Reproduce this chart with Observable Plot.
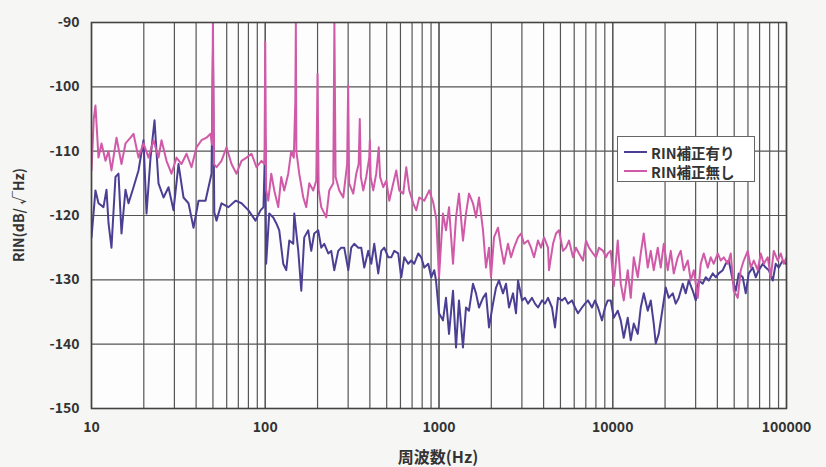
<!DOCTYPE html>
<html><head><meta charset="utf-8">
<script src="https://cdn.jsdelivr.net/npm/d3@7"></script>
<script src="https://cdn.jsdelivr.net/npm/@observablehq/plot@0.6"></script>
<style>
body{margin:0;background:#f6f6f4;}
#wrap{position:relative;width:826px;height:467px;overflow:hidden;font-family:"Noto Sans CJK JP","Noto Sans",sans-serif;color:#333;}
#legend{position:absolute;left:617px;top:136px;width:136px;height:44px;background:#fff;border:1px solid #666;}
.li{position:absolute;left:0;height:18px;display:flex;align-items:center;font-size:14.5px;font-weight:bold;color:#333;white-space:nowrap;}
.sw{display:inline-block;width:23px;height:0;border-top:2px solid;margin:0 4px 0 6px;}
#xt{position:absolute;left:338px;width:200px;top:444px;text-align:center;font-size:16px;font-weight:bold;}
#yt{position:absolute;left:-82px;top:205px;width:200px;text-align:center;font-size:14px;font-weight:bold;transform:rotate(-90deg);}
</style></head><body><div id="wrap"></div>
<script>
const xTicks = [10, 100, 1000, 10000, 100000];
const yTicks = [-150, -140, -130, -120, -110, -100, -90];
const seriesNames = ["RIN補正有り", "RIN補正無し"];
const seriesColors = ["#4b3f94", "#d05aa8"];

// RIN補正有り (with correction)
const blueFreq = [10,10.54,10.97,11.72,12.2,12.53,13.03,13.74,14.3,14.88,15.69,16.33,17.45,18.64,19.92,20.73,21.86,23.05,24.3,25.97,27.75,29.65,31.67,33.85,36.17,38.65,41.3,45.31,49.06,50,50.9,52.41,56,61.45,67.44,73.01,80.1,87.88,93.9,97.7,100,101.2,
105.4,111.2,115.7,120.4,126.9,132.1,137.5,144.9,146.9,154.9,161.2,167.7,176.8,184,191.4,201.8,210,218.6,230.5,239.8,249.5,263.1,273.8,284.9,300.5,312.6,325.3,342.9,356.9,371.4,391.5,407.5,424.1,447.1,465.3,484.1,510.5,531.2,552.8,582.7,606.4,631,665.3,692.3,720.4,759.6,790.4,822.5,867.3,902.5,939.1,
961,1000,1054,1097,1142,1204,1253,1303,1374,1430,1488,1569,1633,1699,1792,1864,1940,2046,2129,2215,2335,2430,2529,2667,2775,2850,3005,3126,3253,3429,3569,3714,3915,4075,4241,4471,4653,4841,5105,5312,5528,5827,6064,6310,6653,6923,7204,7596,7904,8225,8673,9025,9359,9739,10134,10686,
11118,11570,12200,12694,13210,13930,14494,15080,15903,16547,17219,17679,18397,19404,20184,21006,22150,23045,23982,25290,26310,27382,28870,30050,31262,32960,34295,35690,37625,39150,40747,42970,44710,46530,49060,51050,53110,56000,58270,60630,63940,66530,69230,73010,75960,79040,83360,86730,90250,95150,99010,100000];
const blueVal = [-123.4,-116.1,-118.1,-118.7,-116,-121.2,-125,-114,-113.5,-122.8,-116,-118.1,-115.6,-113,-108.3,-119.7,-111,-105.2,-115,-117.2,-115.6,-119.2,-112,-117.2,-118.1,-121.9,-117.7,-117.7,-113.5,-94.7,-119.5,-120.8,-118.1,-118.7,-117.7,-118.1,-119.2,-120.8,-119.2,-118.7,-108,-127.5,
-119.7,-120.3,-121.2,-122.3,-127.5,-128.5,-123.9,-124.4,-119.7,-125.5,-131.7,-123.4,-122.3,-125.5,-122.8,-122.3,-125,-124.4,-125.9,-125.5,-128.5,-125.5,-125,-125,-128.5,-125,-124.4,-125,-125,-128.1,-125.5,-127.5,-124.4,-129,-125.5,-125,-126.5,-126.5,-125.5,-125.9,-129.6,-126.5,-127.5,-127,-127.5,-125.9,-126.5,-128.1,-127.5,-129.6,-128.5,
-130.1,-135.2,-136.3,-132.8,-138.4,-131.7,-140.5,-133.2,-140.5,-134.3,-134.8,-130.6,-132.1,-134.3,-132.8,-132.1,-137.4,-133.7,-131.2,-130.1,-132.1,-130.6,-134.3,-132.1,-135.2,-130.1,-133.2,-132.8,-133.7,-132.8,-133.7,-134.3,-133.2,-133.7,-132.8,-134.3,-137.4,-132.8,-133.2,-132.8,-133.7,-133.2,-134.3,-135.2,-134.3,-133.7,-133.2,-134.3,-133.2,-134.3,-136.3,-134.3,-133.2,-133.2,-135.9,-134.8,
-136.3,-139,-135.9,-139.4,-136.8,-138.4,-134.3,-132.1,-134.8,-133.2,-136.8,-139.9,-138.4,-134.3,-131.2,-132.8,-132.1,-133.7,-132.8,-130.6,-132.1,-130.1,-131.7,-133.2,-130.1,-130.6,-129.6,-130.1,-129,-129.6,-129,-128.5,-127.5,-127,-130.1,-131.7,-129,-129.6,-132.1,-129,-128.1,-129.6,-128.5,-127.5,-128.1,-128.5,-130.1,-127.5,-128.1,-127,-127.5,-127.2];

// RIN補正無し (without correction)
const pinkFreq = [10,10.3,10.54,10.97,11.42,12.04,12.53,13.03,13.93,14.88,15.69,16.77,17.45,18.64,19.92,21.29,22.75,24.3,25.29,27.02,28.87,30.85,32.96,35.23,37.63,40.22,42.97,45.92,48.41,49.4,50,50.7,52.41,56,59.84,63.94,68.31,73.01,78.01,83.36,89.05,95.15,99,100,101.2,
104.1,108.3,112.7,118.8,123.6,128.6,135.6,141.1,146,149,150,151,156.9,165.5,172.2,179.2,188.9,196.6,200,203,210,224.4,233.5,246.3,250,254,266.7,281.2,296,300,304,321,334.1,345,350,355,366.4,381.3,396.8,400,404,418.3,435.3,450,458,477.7,497.1,517.3,545.5,567.5,590.6,622.7,647.9,674.2,710.9,739.8,769.8,822.5,878.8,926.6,964.3,1000,
1054,1097,1142,1204,1253,1303,1374,1430,1488,1569,1633,1699,1792,1864,1940,1992,2073,2186,2275,2366,2495,2597,2702,2850,2965,3085,3253,3385,3523,3714,3865,4022,4241,4297,4531,4714,4905,5173,5382,5600,5906,6145,6394,6743,7015,7300,7698,8010,8336,8789,9146,9359,9739,10134,10686,
11118,11570,12200,12694,13210,13930,14494,15080,15903,16547,17219,18155,18891,19661,20730,21572,22443,23665,24628,25627,27022,28118,29262,30852,32100,33400,35230,36645,38126,40220,41840,43540,45920,47770,49710,52410,54540,56750,59840,62270,64790,68310,71090,73980,78010,81170,84470,89050,92670,96430,100000];
const pinkVal = [-113,-105,-102.9,-111,-108.8,-111.5,-110,-113,-107.9,-112,-108.8,-107.9,-107.3,-111,-108.8,-111,-108.3,-111,-108.3,-111.5,-113.5,-111,-112,-110.4,-112.5,-109.4,-108.3,-107.9,-107.3,-109,-90,-112,-112.5,-111.5,-109.4,-112,-113.5,-111.5,-111,-110.4,-112.5,-111.5,-112,-93,-116,
-117.7,-113.5,-116.1,-118.7,-114,-116.1,-113.5,-110,-111,-102,-90,-110,-113.5,-117.2,-118.7,-115,-116.1,-114.6,-98,-116,-118.7,-120.3,-116.1,-115,-90,-114,-116.1,-117.2,-112,-99.8,-115,-116.6,-113.5,-112,-105,-114,-116.1,-114,-111,-108.3,-114,-116.1,-113.5,-109.4,-114,-115.6,-114.6,-117.7,-115,-113,-116.1,-116.6,-112.5,-116.1,-118.1,-119.2,-117.2,-117.7,-116.1,-118,-120.5,-129.6,
-119.7,-122.3,-118.7,-127.5,-120.3,-116.6,-123.9,-119.7,-116.6,-118.1,-120.3,-117.2,-122.3,-128.1,-125,-129.6,-123.4,-121.9,-125,-127.5,-124.4,-126.5,-125,-123.4,-122.8,-124.4,-123.9,-125,-126.5,-123.9,-125,-123.4,-125,-128.5,-124.4,-122.8,-122.3,-125.5,-125,-123.9,-126.5,-125,-125.9,-127,-123.9,-125,-125.9,-126.5,-125,-125.5,-126.5,-125.9,-125.5,-131,-123.9,
-130.6,-133.2,-128.5,-132.8,-126.5,-129.6,-125.9,-122.8,-128.1,-125.5,-128.5,-125,-128.1,-124.4,-128.5,-125.5,-129,-126.5,-125.5,-128.5,-127,-130.1,-128.5,-132.8,-127.5,-125.9,-128.1,-126.5,-127.5,-125.9,-127,-126.5,-127.5,-125.9,-131.7,-132.8,-128.5,-127,-125.5,-128.1,-127,-128.5,-125.9,-127.5,-126.5,-129.6,-125.5,-127,-125.9,-127.5,-126.5];

const data = [
  ...blueFreq.map((f, i) => ({f, v: blueVal[i], s: seriesNames[0]})),
  ...pinkFreq.map((f, i) => ({f, v: pinkVal[i], s: seriesNames[1]}))
];
const gridX = [];
for (const dec of [10, 100, 1000, 10000]) for (let k = 1; k <= 10; k++) gridX.push(dec * k);

const chart = Plot.plot({
  width: 826, height: 467,
  marginLeft: 91, marginRight: 40, marginTop: 22, marginBottom: 59,
  style: {background: "transparent", fontFamily: '"Noto Sans CJK JP","Noto Sans",sans-serif', fontSize: "14px", color: "#333"},
  x: {type: "log", domain: [10, 100000], label: null},
  y: {domain: [-150, -90], label: null},
  color: {domain: seriesNames, range: seriesColors},
  marks: [
    Plot.frame({fill: "#fdfdfd", stroke: null}),
    Plot.ruleY(yTicks, {stroke: "#555", strokeWidth: 1.2}),
    Plot.ruleX(gridX, {stroke: "#555", strokeWidth: 1.2}),
    Plot.line(data, {x: "f", y: "v", z: "s", stroke: "s", strokeWidth: 2, clip: true}),
    Plot.frame({stroke: "#444", strokeWidth: 1.6}),
    Plot.axisX({ticks: xTicks, tickFormat: d => String(d), tickSize: 0, tickPadding: 14, fontWeight: "bold"}),
    Plot.axisY({ticks: yTicks, tickFormat: d => String(d), tickSize: 0, tickPadding: 12, fontWeight: "bold"})
  ]
});
const wrap = document.getElementById("wrap");
wrap.appendChild(chart);
const lg = document.createElement("div");
lg.id = "legend";
seriesNames.forEach((n, i) => {
  const row = document.createElement("div");
  row.className = "li";
  row.style.top = (i === 0 ? 6 : 25) + "px";
  row.innerHTML = `<span class="sw" style="border-color:${seriesColors[i]}"></span>${n}`;
  lg.appendChild(row);
});
wrap.appendChild(lg);
const xt = document.createElement("div"); xt.id = "xt"; xt.textContent = "周波数(Hz)"; wrap.appendChild(xt);
const yt = document.createElement("div"); yt.id = "yt"; yt.textContent = "RIN(dB/ √Hz)"; wrap.appendChild(yt);
</script></body></html>
